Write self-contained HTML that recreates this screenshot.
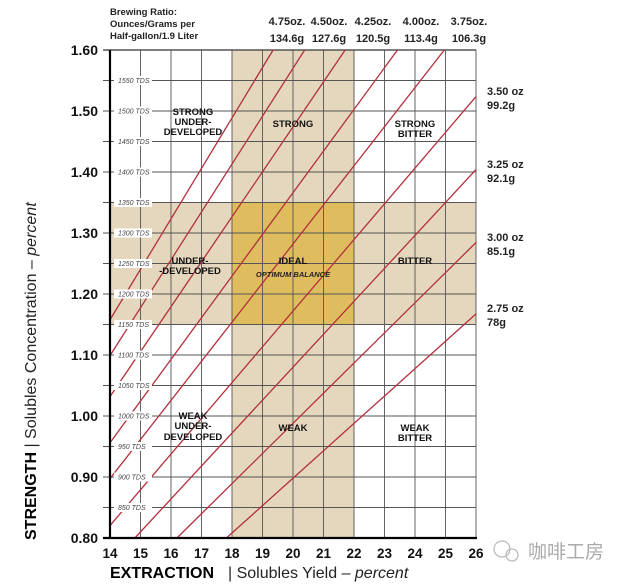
<!DOCTYPE html>
<html><head><meta charset="utf-8"><style>
html,body{margin:0;padding:0;background:#fff;width:632px;height:584px;overflow:hidden;}
svg{display:block;font-family:"Liberation Sans",sans-serif;}
</style></head><body>
<svg width="632" height="584" viewBox="0 0 632 584" xmlns="http://www.w3.org/2000/svg" overflow="hidden">
<rect width="632" height="584" fill="#fff"/>
<rect x="232" y="50" width="122" height="488" fill="#e4d7bd"/>
<rect x="110" y="202.5" width="366" height="122" fill="#e4d7bd"/>
<rect x="232" y="202.5" width="122" height="122" fill="#dfbd5e"/>
<g stroke="#555" stroke-width="0.9" id="grid"></g>
<g stroke="#b3303c" stroke-width="1.3" id="lines"></g>
<line x1="110" y1="50" x2="110" y2="539" stroke="#000" stroke-width="2.2"/>
<line x1="103" y1="538" x2="477" y2="538" stroke="#000" stroke-width="2.2"/>
<g id="tds" font-size="7" font-style="italic" fill="#444"></g>
<g id="ylab" font-size="14" font-weight="bold" text-anchor="end" fill="#111"></g>
<g id="xlab" font-size="13.5" font-weight="bold" text-anchor="middle" fill="#111"></g>
<g font-size="9.5" font-weight="bold" fill="#222">
<text x="110" y="15">Brewing Ratio:</text>
<text x="110" y="27">Ounces/Grams per</text>
<text x="110" y="39">Half-gallon/1.9 Liter</text>
</g>
<g font-size="11" font-weight="bold" fill="#222" text-anchor="middle">
<text x="287" y="25">4.75oz.</text><text x="287" y="42">134.6g</text>
<text x="329" y="25">4.50oz.</text><text x="329" y="42">127.6g</text>
<text x="373" y="25">4.25oz.</text><text x="373" y="42">120.5g</text>
<text x="421" y="25">4.00oz.</text><text x="421" y="42">113.4g</text>
<text x="469" y="25">3.75oz.</text><text x="469" y="42">106.3g</text>
</g>
<g font-size="11" font-weight="bold" fill="#222">
<text x="487" y="95">3.50 oz</text><text x="487" y="109">99.2g</text>
<text x="487" y="168">3.25 oz</text><text x="487" y="182">92.1g</text>
<text x="487" y="241">3.00 oz</text><text x="487" y="255">85.1g</text>
<text x="487" y="312">2.75 oz</text><text x="487" y="326">78g</text>
</g>
<g font-size="9.5" font-weight="bold" fill="#111" text-anchor="middle">
<text x="193" y="115">STRONG</text><text x="193" y="125">UNDER-</text><text x="193" y="135">DEVELOPED</text>
<text x="293" y="127">STRONG</text>
<text x="415" y="127">STRONG</text><text x="415" y="137">BITTER</text>
<text x="190" y="264">UNDER-</text><text x="190" y="274">-DEVELOPED</text>
<text x="293" y="264">IDEAL</text>
<text x="415" y="264">BITTER</text>
<text x="193" y="419">WEAK</text><text x="193" y="429">UNDER-</text><text x="193" y="440">DEVELOPED</text>
<text x="293" y="431">WEAK</text>
<text x="415" y="431">WEAK</text><text x="415" y="441">BITTER</text>
</g>
<text x="293" y="277" font-size="7.5" font-weight="bold" font-style="italic" text-anchor="middle" fill="#222">OPTIMUM BALANCE</text>
<text x="110" y="578" font-size="16" font-weight="bold" fill="#000">EXTRACTION</text>
<text x="228" y="578" font-size="16" fill="#222">| Solubles Yield – <tspan font-style="italic">percent</tspan></text>
<text transform="translate(36,540) rotate(-90)" font-size="16" fill="#222"><tspan font-weight="bold" fill="#000">STRENGTH</tspan> | Solubles Concentration – <tspan font-style="italic">percent</tspan></text>
<circle cx="502" cy="549" r="8" fill="none" stroke="#bbb" stroke-width="1.3"/>
<circle cx="512" cy="555" r="6" fill="none" stroke="#bbb" stroke-width="1.3"/>
<text x="528" y="558" font-size="19" fill="#aaa" font-family="'Liberation Sans','Noto Sans CJK SC',sans-serif">咖啡工房</text>
<script>
var NS="http://www.w3.org/2000/svg";
function X(e){return 110+(e-14)*30.5;}
function Y(s){return 538-(s-0.8)*610;}
function el(p,t,a,txt){var n=document.createElementNS(NS,t);for(var k in a)n.setAttribute(k,a[k]);if(txt)n.textContent=txt;document.getElementById(p).appendChild(n);return n;}
for(var e=15;e<=26;e++){el("grid","line",{x1:X(e),y1:50,x2:X(e),y2:538});}
for(var i=0;i<=16;i++){var s=0.8+i*0.05;var y=Y(s);el("grid","line",{x1:103,y1:y,x2:476,y2:y,"stroke-width":(i==16?1.4:0.9)});}
for(var e=14;e<=26;e++){el("xlab","text",{x:X(e),y:558},String(e));}
for(var i=0;i<=8;i++){var s=0.8+i*0.1;el("ylab","text",{x:98,y:Y(s)+5},s.toFixed(2));}
for(var i=1;i<=15;i++){var t=800+i*50;var y=Y(t/1000);
el("tds","rect",{x:114,y:y-4.5,width:38,height:9,fill:"#fff"});
el("tds","text",{x:118,y:y+2.5},t+" TDS");}
var cs=[0.0827,0.0785,0.0737,0.0683,0.0641,0.0586,0.0540,0.0494,0.0449];
cs.forEach(function(c){
  var e1=Math.max(14,0.8/c), e2=Math.min(26,1.6/c);
  el("lines","line",{x1:X(e1),y1:Y(e1*c),x2:X(e2),y2:Y(e2*c)});
});
</script>
</svg>
</body></html>
